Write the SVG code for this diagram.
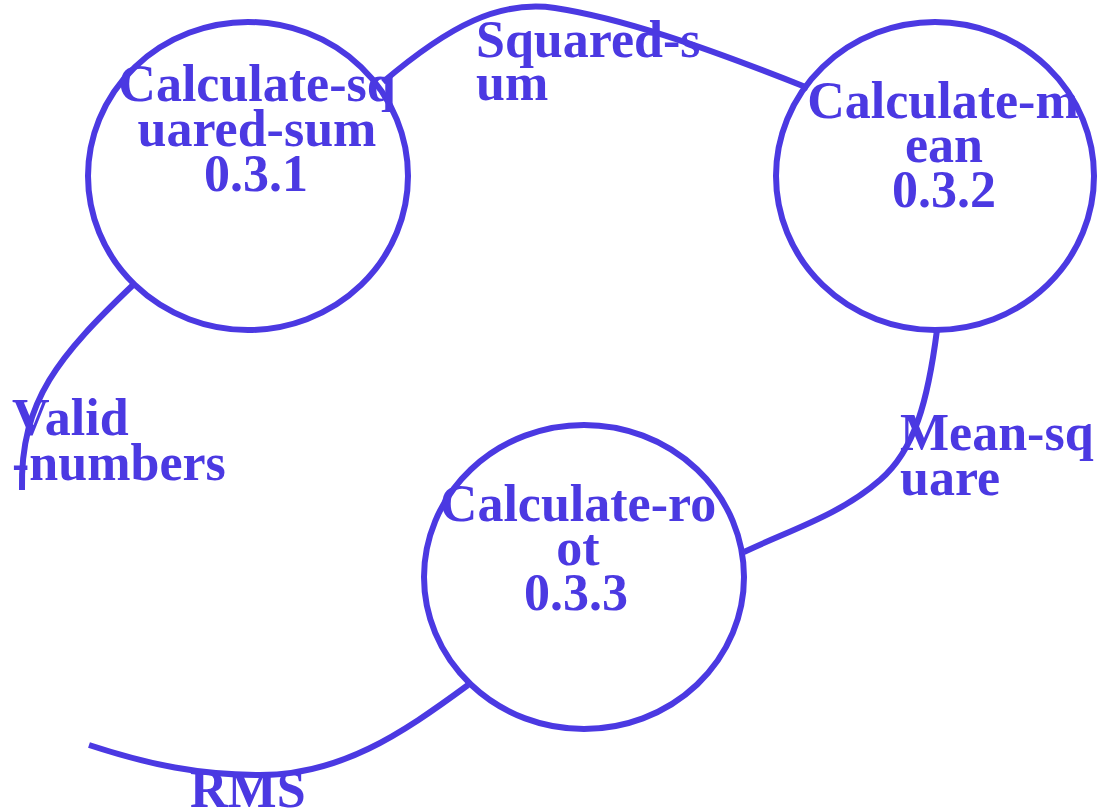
<svg xmlns="http://www.w3.org/2000/svg" width="1101" height="810" viewBox="0 0 1101 810">
<style>
.n{fill:none;stroke:#4b39e2;stroke-width:6}
.e{fill:none;stroke:#4b39e2;stroke-width:6}
text{font-family:"Liberation Serif","Times New Roman",serif;font-weight:bold;font-size:52px;fill:#4b39e2}
.c{text-anchor:middle}
</style>
<rect width="1101" height="810" fill="#ffffff"/>
<g id="connectors">
<path class="e" d="M133,285 C 60,355 20,400 22,490"/>
<path class="e" d="M383,82 C 450,25 500,0 555,8 C 620,18 700,45 808,88"/>
<path class="e" d="M937,330 C 928,400 915,450 880,480 C 840,515 790,530 744,552"/>
<path class="e" d="M468,685 C 400,735 340,775 260,775 C 200,775 150,765 89,745"/>
<text x="12" y="435">Valid</text>
<text x="12" y="480">-numbers</text>
<text x="476" y="57">Squared-s</text>
<text x="476" y="100">um</text>
<text x="900" y="450">Mean-sq</text>
<text x="900" y="495">uare</text>
<text x="190" y="807">RMS</text>
</g>
<g id="node1">
<ellipse class="n" cx="248" cy="176" rx="160" ry="154"/>
<text class="c" x="257" y="101">Calculate-sq</text>
<text class="c" x="257" y="146">uared-sum</text>
<text class="c" x="256" y="191">0.3.1</text>
</g>
<g id="node2">
<ellipse class="n" cx="935" cy="176" rx="159" ry="154"/>
<text class="c" x="943" y="118">Calculate-m</text>
<text class="c" x="944" y="162">ean</text>
<text class="c" x="944" y="207">0.3.2</text>
</g>
<g id="node3">
<ellipse class="n" cx="584" cy="577" rx="160" ry="152"/>
<text class="c" x="578" y="521">Calculate-ro</text>
<text class="c" x="578" y="565">ot</text>
<text class="c" x="576" y="610">0.3.3</text>
</g>
</svg>
